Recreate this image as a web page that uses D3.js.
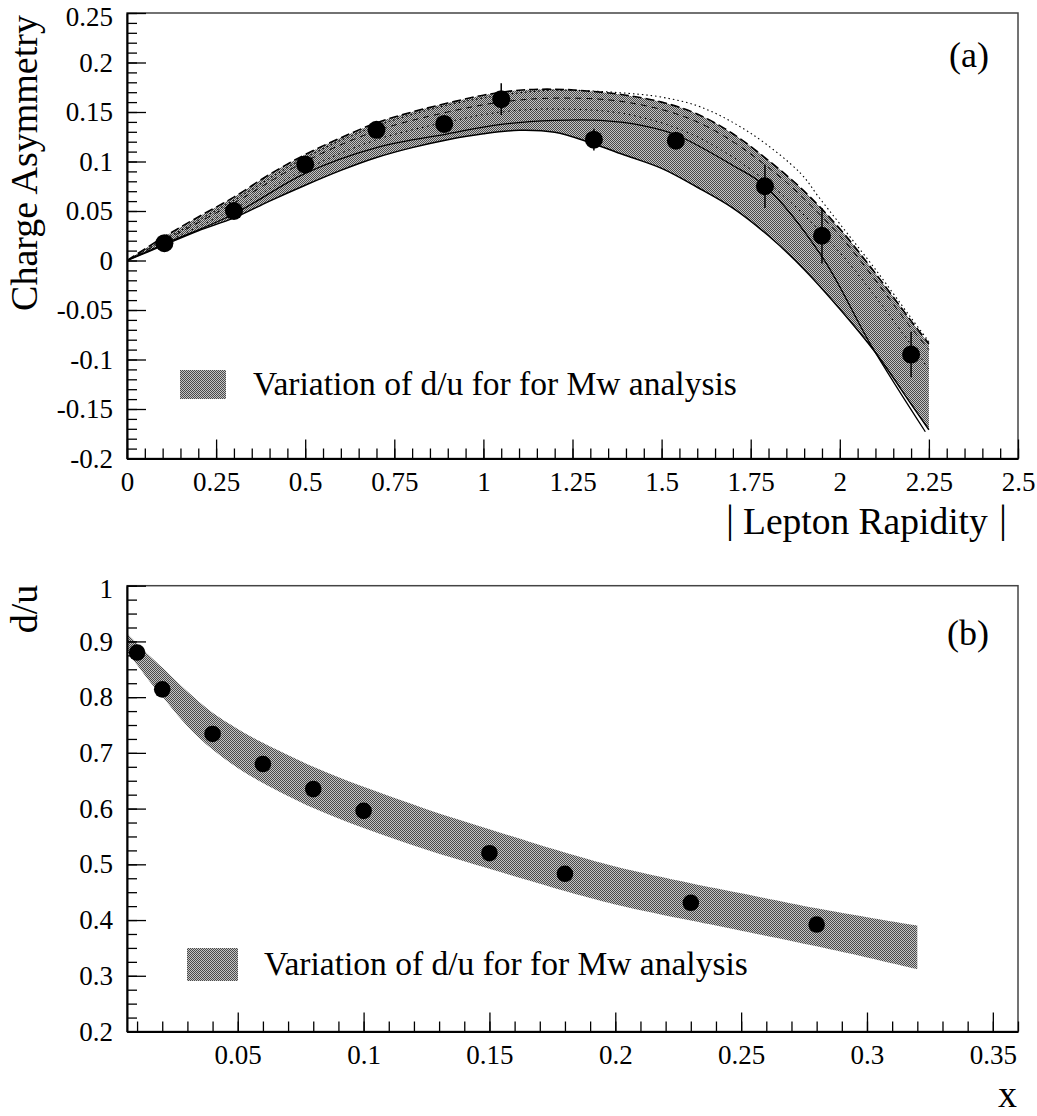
<!DOCTYPE html>
<html><head><meta charset="utf-8">
<script src="https://cdn.jsdelivr.net/npm/d3@7"></script>
<style>
body{margin:0;background:#fff}
svg{display:block}
text{font-family:"Liberation Serif","Times New Roman",serif;fill:#000}
</style>
</head><body>
<svg id="c" width="1037" height="1116"></svg>
<script>
// ---------------- Panel (a): charge asymmetry ----------------
const rapX   = [0.105, 0.30, 0.50, 0.70, 0.89, 1.05, 1.31, 1.54, 1.79, 1.95, 2.20];
const asymY  = [0.0175, 0.050, 0.097, 0.132, 0.138, 0.163, 0.122, 0.121, 0.075, 0.025, -0.095];
const asymE  = [0.004, 0.005, 0.006, 0.007, 0.007, 0.016, 0.011, 0.008, 0.022, 0.028, 0.023];

const bandAx    = [0, 0.1, 0.2, 0.3, 0.4, 0.5, 0.6, 0.7, 0.8, 0.9, 1.0, 1.1, 1.2, 1.3, 1.4, 1.5, 1.6, 1.7, 1.8, 1.9, 2.0, 2.1, 2.2, 2.25];
const bandAUp   = [0, 0.023, 0.044, 0.064, 0.087, 0.107, 0.124, 0.139, 0.150, 0.159, 0.167, 0.172, 0.173, 0.171, 0.167, 0.160, 0.148, 0.128, 0.101, 0.070, 0.032, -0.013, -0.061, -0.084];
const bandALow  = [0, 0.015, 0.030, 0.043, 0.060, 0.076, 0.091, 0.104, 0.114, 0.122, 0.128, 0.1315, 0.1295, 0.119, 0.106, 0.093, 0.074, 0.053, 0.025, -0.009, -0.049, -0.093, -0.145, -0.171];

const centreLine = [[0,0],[0.1,0.016],[0.3,0.047],[0.5,0.088],[0.7,0.114],[0.9,0.128],[1.05,0.1375],[1.2,0.1415],[1.33,0.1415],[1.45,0.136],[1.54,0.127],[1.70,0.096],[1.79,0.0753],[1.95,0.004],[2.09,-0.087],[2.24,-0.173]];
const outerDotted = [[0,0],[0.3,0.061],[0.5,0.104],[0.7,0.136],[0.9,0.157],[1.05,0.167],[1.2,0.172],[1.4,0.169],[1.5,0.165],[1.61,0.155],[1.75,0.1285],[1.89,0.088],[1.94,0.0645],[2.0,0.037],[2.1,-0.009],[2.2,-0.058],[2.25,-0.082]];
const innerDashed = [[0,0],[0.3,0.058],[0.5,0.100],[0.7,0.131],[0.9,0.150],[1.05,0.160],[1.2,0.164],[1.4,0.160],[1.6,0.140],[1.8,0.094],[2.0,0.025],[2.2,-0.068],[2.25,-0.09]];
const innerDotted = [[0,0],[0.3,0.052],[0.5,0.092],[0.7,0.122],[0.9,0.140],[1.05,0.150],[1.2,0.153],[1.4,0.148],[1.6,0.125],[1.8,0.078],[2.0,0.008],[2.2,-0.085],[2.25,-0.11]];

const aXMajor = [0, 0.25, 0.5, 0.75, 1, 1.25, 1.5, 1.75, 2, 2.25, 2.5];
const aXLabels = ["0","0.25","0.5","0.75","1","1.25","1.5","1.75","2","2.25","2.5"];
const aYMajor = [-0.2, -0.15, -0.1, -0.05, 0, 0.05, 0.1, 0.15, 0.2, 0.25];
const aYLabels = ["-0.2","-0.15","-0.1","-0.05","0","0.05","0.1","0.15","0.2","0.25"];

// ---------------- Panel (b): d/u ----------------
const duX = [0.01, 0.02, 0.04, 0.06, 0.08, 0.10, 0.15, 0.18, 0.23, 0.28];
const duY = [0.880, 0.814, 0.734, 0.680, 0.635, 0.596, 0.520, 0.483, 0.431, 0.392];

const bandBx   = [0.006, 0.01, 0.015, 0.02, 0.03, 0.04, 0.05, 0.06, 0.08, 0.10, 0.125, 0.15, 0.18, 0.20, 0.23, 0.25, 0.28, 0.30, 0.32];
const bandBUp  = [0.914, 0.896, 0.874, 0.853, 0.810, 0.772, 0.743, 0.718, 0.675, 0.639, 0.599, 0.563, 0.521, 0.496, 0.466, 0.448, 0.421, 0.405, 0.390];
const bandBLow = [0.882, 0.858, 0.828, 0.801, 0.748, 0.706, 0.673, 0.646, 0.601, 0.565, 0.526, 0.492, 0.452, 0.428, 0.399, 0.381, 0.353, 0.333, 0.312];

const bXMajor = [0.05, 0.1, 0.15, 0.2, 0.25, 0.3, 0.35];
const bXLabels = ["0.05","0.1","0.15","0.2","0.25","0.3","0.35"];
const bYMajor = [0.2, 0.3, 0.4, 0.5, 0.6, 0.7, 0.8, 0.9, 1];
const bYLabels = ["0.2","0.3","0.4","0.5","0.6","0.7","0.8","0.9","1"];

const legendText = "Variation of d/u for for Mw analysis";

// ---------------- drawing ----------------
const svg = d3.select("#c");
const defs = svg.append("defs");
const pat = defs.append("pattern").attr("id","stip").attr("patternUnits","userSpaceOnUse")
  .attr("x",0).attr("y",0).attr("width",2).attr("height",2);
pat.append("rect").attr("width",2).attr("height",2).attr("fill","#c4c4c4").attr("shape-rendering","crispEdges");
pat.append("rect").attr("x",0).attr("y",0).attr("width",1).attr("height",1).attr("fill","#4a4a4a").attr("shape-rendering","crispEdges");
pat.append("rect").attr("x",1).attr("y",1).attr("width",1).attr("height",1).attr("fill","#4a4a4a").attr("shape-rendering","crispEdges");

function range(a, b, step){ const r=[]; for(let v=a; v<=b+1e-9; v+=step) r.push(+v.toFixed(6)); return r; }

function drawAxes(g, x, y, xMaj, xLab, xMin, yMaj, yLab, yMin){
  const [x0,x1] = x.range(), [y0,y1] = y.range();
  g.append("rect").attr("x",x0).attr("y",y1).attr("width",x1-x0).attr("height",y0-y1)
    .attr("fill","none").attr("stroke","#444").attr("stroke-width",1.5);
  g.append("g").attr("transform",`translate(0,${y0})`)
    .call(d3.axisBottom(x).tickValues(xMin).tickSizeInner(-10).tickSizeOuter(0).tickFormat(""))
    .call(s=>{s.select(".domain").remove(); s.selectAll("line").attr("stroke","#000").attr("stroke-width",1.3);});
  g.append("g").attr("transform",`translate(${x0},0)`)
    .call(d3.axisLeft(y).tickValues(yMin).tickSizeInner(-10).tickSizeOuter(0).tickFormat(""))
    .call(s=>{s.select(".domain").remove(); s.selectAll("line").attr("stroke","#000").attr("stroke-width",1.3);});
  g.append("g").attr("transform",`translate(0,${y0})`)
    .call(d3.axisBottom(x).tickValues(xMaj).tickSizeInner(-19).tickSizeOuter(0).tickPadding(13)
      .tickFormat((d,i)=>xLab[i]))
    .call(s=>{
      s.attr("font-family",null).attr("font-size",null);
      s.select(".domain").attr("stroke","#000").attr("stroke-width",2);
      s.selectAll("line").attr("stroke","#000").attr("stroke-width",1.3);
      s.selectAll("text").attr("font-size",27);
    });
  const ga = g.append("g").attr("transform",`translate(${x0},0)`)
    .call(d3.axisLeft(y).tickValues(yMaj).tickSizeInner(-19).tickSizeOuter(0).tickPadding(14)
      .tickFormat((d,i)=>yLab[i]))
    .call(s=>{
      s.attr("font-family",null).attr("font-size",null);
      s.select(".domain").attr("stroke","#000").attr("stroke-width",2);
      s.selectAll("line").attr("stroke","#000").attr("stroke-width",1.3);
      s.selectAll("text").attr("font-size",27);
    });
  ga.selectAll(".tick text").filter(d=>d===yMaj[yMaj.length-1]).attr("dy","0.45em");
}

const curve = d3.curveCatmullRom.alpha(0.5);

// ---- panel a
const xa = d3.scaleLinear().domain([0,2.5]).range([127,1018]);
const ya = d3.scaleLinear().domain([-0.2,0.25]).range([458.5,13]);
const ga = svg.append("g");

defs.append("clipPath").attr("id","clipA").append("rect")
  .attr("x",127).attr("y",13).attr("width",891).attr("height",445.5);
const pa = ga.append("g").attr("clip-path","url(#clipA)");

const areaA = d3.area().x((d,i)=>xa(bandAx[i])).y0((d,i)=>ya(bandALow[i])).y1((d,i)=>ya(bandAUp[i]))
  .curve(curve);
pa.append("path").attr("d",areaA(bandAx)).attr("fill","url(#stip)");

const lineA = d3.line().x(d=>xa(d[0])).y(d=>ya(d[1])).curve(curve);
pa.append("path").attr("d",lineA(innerDotted)).attr("fill","none").attr("stroke","#000")
  .attr("stroke-width",1).attr("stroke-dasharray","1.5,4");
pa.append("path").attr("d",lineA(innerDashed)).attr("fill","none").attr("stroke","#000")
  .attr("stroke-width",1).attr("stroke-dasharray","6,5");
pa.append("path").attr("d",lineA(outerDotted)).attr("fill","none").attr("stroke","#000")
  .attr("stroke-width",1.1).attr("stroke-dasharray","1.5,3");
pa.append("path").attr("d",lineA(bandAx.map((x,i)=>[x,bandAUp[i]]))).attr("fill","none").attr("stroke","#000")
  .attr("stroke-width",1.6).attr("stroke-dasharray","9,4");
pa.append("path").attr("d",lineA(bandAx.map((x,i)=>[x,bandALow[i]]))).attr("fill","none").attr("stroke","#000")
  .attr("stroke-width",1.5);
pa.append("path").attr("d",lineA(centreLine)).attr("fill","none").attr("stroke","#000").attr("stroke-width",1.3);

pa.selectAll("line.err").data(rapX).enter().append("line").attr("class","err")
  .attr("x1",d=>xa(d)).attr("x2",d=>xa(d))
  .attr("y1",(d,i)=>ya(asymY[i]-asymE[i])).attr("y2",(d,i)=>ya(asymY[i]+asymE[i]))
  .attr("stroke","#000").attr("stroke-width",1.5);
pa.selectAll("circle").data(rapX).enter().append("circle")
  .attr("cx",d=>xa(d)).attr("cy",(d,i)=>ya(asymY[i])).attr("r",9).attr("fill","#000");

drawAxes(ga, xa, ya, aXMajor, aXLabels, range(0,2.5,0.05), aYMajor, aYLabels, range(-0.2,0.25,0.01));

ga.append("rect").attr("x",180).attr("y",370).attr("width",46).attr("height",29).attr("fill","url(#stip)");
ga.append("text").attr("x",253).attr("y",395).attr("font-size",33.5).text(legendText);
ga.append("text").attr("x",989).attr("y",67).attr("font-size",36).attr("text-anchor","end").text("(a)");

ga.append("text").attr("transform","translate(37,163) rotate(-90)").attr("text-anchor","middle")
  .attr("font-size",38).text("Charge Asymmetry");
ga.append("text").attr("x",730).attr("y",532).attr("font-size",40).attr("text-anchor","middle").text("|");
ga.append("text").attr("x",743).attr("y",534).attr("font-size",37.5).text("Lepton Rapidity");
ga.append("text").attr("x",1003).attr("y",532).attr("font-size",40).attr("text-anchor","middle").text("|");

// ---- panel b
const xb = d3.scaleLinear().domain([0.006,0.36]).range([127,1018]);
const yb = d3.scaleLinear().domain([0.2,1]).range([1031.5,585.7]);
const gb = svg.append("g");
defs.append("clipPath").attr("id","clipB").append("rect")
  .attr("x",127).attr("y",585.7).attr("width",891).attr("height",445.8);
const pb = gb.append("g").attr("clip-path","url(#clipB)");

const areaB = d3.area().x((d,i)=>xb(bandBx[i])).y0((d,i)=>yb(bandBLow[i])).y1((d,i)=>yb(bandBUp[i]))
  .curve(curve);
pb.append("path").attr("d",areaB(bandBx)).attr("fill","url(#stip)");

pb.selectAll("circle").data(duX).enter().append("circle")
  .attr("cx",d=>xb(d)).attr("cy",(d,i)=>yb(duY[i])).attr("r",8.3).attr("fill","#000");

drawAxes(gb, xb, yb, bXMajor, bXLabels, range(0.01,0.36,0.01), bYMajor, bYLabels, range(0.2,1,0.025));

gb.append("rect").attr("x",187).attr("y",948).attr("width",51).attr("height",33).attr("fill","url(#stip)");
gb.append("text").attr("x",264).attr("y",975).attr("font-size",33.5).text(legendText);
gb.append("text").attr("x",989).attr("y",645).attr("font-size",36).attr("text-anchor","end").text("(b)");

gb.append("text").attr("transform","translate(37,609) rotate(-90)").attr("text-anchor","middle")
  .attr("font-size",38).text("d/u");
gb.append("text").attr("x",1017).attr("y",1107).attr("font-size",38).attr("text-anchor","end").text("x");
</script>
</body></html>
